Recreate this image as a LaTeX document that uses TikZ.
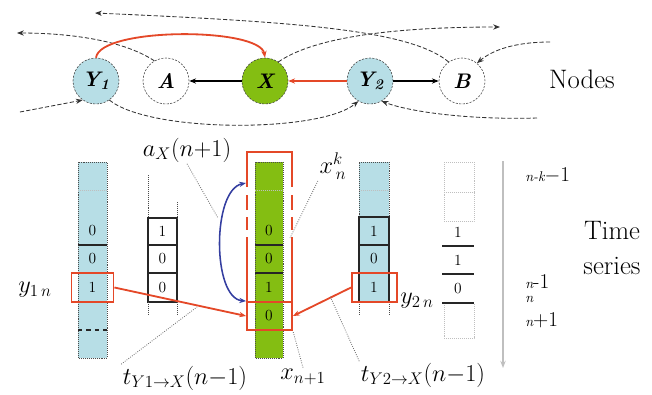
\documentclass[tikz,border=0pt]{standalone}
\usetikzlibrary{arrows.meta,positioning,calc}

\definecolor{nodeblue}{RGB}{183,222,230}
\definecolor{nodegreen}{RGB}{132,190,18}
\definecolor{arrred}{RGB}{228,72,40}
\definecolor{arcblue}{RGB}{52,62,160}

\begin{document}
\begin{tikzpicture}[
  x=0.025cm, y=-0.025cm,
  >={Stealth[length=1.7mm, width=1.3mm]},
  nd/.style={circle, draw=black!75, dash pattern=on 1.5pt off 1pt, minimum size=1.15cm,
             inner sep=0pt, font=\fontsize{15}{15}\selectfont\bfseries\itshape},
  cell/.style={minimum width=0.75cm, minimum height=0.7cm, inner sep=0pt,
               font=\fontsize{11}{11}\selectfont},
  rbox/.style={draw=arrred, line width=1.3pt, minimum width=1.05cm, minimum height=0.72cm, inner sep=0pt},
  rline/.style={draw=arrred, line width=1.5pt},
  coldot/.style={draw=black!70, densely dotted},
  faint/.style={draw=black!25, densely dotted},
  cline/.style={draw=black!85, line width=0.9pt},
  dline/.style={draw=black!80, line width=0.6pt, dash pattern=on 3pt off 1.5pt},
  lead/.style={draw=black!55, densely dotted, line width=0.6pt},
  lbl/.style={font=\fontsize{18}{20}\selectfont, inner sep=1pt},
  tlbl/.style={anchor=west, inner sep=0pt, font=\fontsize{15}{16}\selectfont},
  big/.style={font=\fontsize{19}{25}\selectfont, align=center}
]
\useasboundingbox (0,0) rectangle (652,395);

% ---------- nodes row ----------
\node[nd, fill=nodeblue] (Y1) at (96,81) {Y\textsubscript{1}};
\node[nd] (A) at (166,81) {A};
\node[nd, fill=nodegreen] (X) at (265,81) {X};
\node[nd, fill=nodeblue] (Y2) at (370,81) {Y\textsubscript{2}};
\node[nd] (B) at (462,81) {B};
\node[big] (nodes) at (582,79) {Nodes};

% free ends of the links to the rest of the network
\coordinate (aout) at (17,33);
\coordinate (bout) at (95,13);
\coordinate (xout) at (500,27);
\coordinate (y1in) at (20,112);
\coordinate (y2in) at (537,118);
\coordinate (bin) at (550,42);

\draw[dline, ->] (A.120) .. controls (120,38) and (60,33) .. (aout);
\draw[dline, ->] (B.125) .. controls (410,30) and (300,22) .. (bout);
\draw[dline, ->] (X.55) .. controls (310,40) and (380,27) .. (xout);
\draw[dline, ->] (y1in) -- (Y1.235);
\draw[dline, ->] (Y1.305) .. controls (150,133) and (320,133) .. (Y2.240);
\draw[dline, ->] (y2in) .. controls (470,120) and (410,112) .. (Y2.300);
\draw[dline, ->] (bin) .. controls (520,42) and (495,48) .. (B.50);

\draw[->, thick] (X) -- (A);
\draw[->, thick] (Y2) -- (B);
\draw[->, arrred, line width=1.3pt] (Y2) -- (X);
\draw[->, arrred, line width=1.3pt] (Y1.90) .. controls (100,27) and (260,27) .. (X.90);

% ---------- time series ----------
% Y1 column
\fill[nodeblue] (78,162) rectangle (107,358);
\draw[coldot] (78,162) rectangle (107,358);
\draw[faint] (78,190) -- (107,190);
\foreach \yy in {245,273,302} \draw[cline] (78,\yy) -- (107,\yy);
\draw[draw=black!85, line width=0.9pt, dashed] (78,330) -- (107,330);
\foreach \v/\yy [count=\i] in {0/231,0/259,1/287.5}
  \node[cell] (y1c\i) at (92.5,\yy) {\v};
\node[rbox] (y1box) at (92.5,287.5) {};

% A column
\draw[cline] (148,218) rectangle (177,302);
\foreach \yy in {245,273} \draw[cline] (148,\yy) -- (177,\yy);
\draw[coldot] (148,175) -- (148,218) (148,302) -- (148,315)
              (177,202) -- (177,218) (177,302) -- (177,315);
\foreach \v/\yy [count=\i] in {1/231,0/259,0/287.5}
  \node[cell] (ac\i) at (162.5,\yy) {\v};

% X column
\fill[nodegreen] (255,162) rectangle (283,358);
\draw[coldot] (255,162) rectangle (283,358);
\draw[faint] (255,190) -- (283,190);
\foreach \yy in {245,273,302} \draw[cline] (255,\yy) -- (283,\yy);
\foreach \v/\yy [count=\i] in {0/231,0/259,1/287.5,0/316}
  \node[cell] (xc\i) at (269,\yy) {\v};
\node[rbox, minimum width=1.125cm, minimum height=0.7cm] (xbox) at (269.5,316) {};
\draw[rline] (247,187) -- (247,152) -- (292,152) -- (292,187);
\foreach \a/\b in {195/210,217/230} {
  \draw[rline] (247,\a) -- (247,\b);
  \draw[rline] (292,\a) -- (292,\b);
}
\draw[rline] (247,237) -- (247,302) (292,237) -- (292,302);

% Y2 column
\fill[nodeblue] (359,162) rectangle (389,302);
\draw[coldot] (359,217) -- (359,162) -- (389,162) -- (389,217)
              (359,302) -- (359,315) (389,302) -- (389,315);
\draw[faint] (359,190) -- (389,190);
\draw[cline] (359,217) rectangle (389,302);
\foreach \yy in {245,273} \draw[cline] (359,\yy) -- (389,\yy);
\foreach \v/\yy [count=\i] in {1/231,0/259,1/287.5}
  \node[cell] (y2c\i) at (374,\yy) {\v};
\node[rbox, minimum width=1.125cm] (y2box) at (374.5,287.5) {};

% B column
\draw[faint] (444,162) rectangle (474,221);
\draw[faint] (444,192) -- (474,192);
\draw[faint] (444,303) rectangle (474,338);
\foreach \yy in {246,274,303} \draw[cline] (442,\yy) -- (474,\yy);
\foreach \v/\yy [count=\i] in {1/232,1/260,0/289}
  \node[cell] (bc\i) at (458,\yy) {\v};

% transfer and storage
\draw[->, arrred, line width=1.3pt] (y1box.east) -- (xbox.west);
\draw[->, arrred, line width=1.3pt] (y2box.west) -- (xbox.east);
\coordinate (xpast) at (246,183);
\draw[arcblue, line width=1.1pt, <->] (xpast) .. controls (212,190) and (212,298) .. (xbox.north west);

% labels and leaders
\node[lbl] (ax) at (187,150) {$a_{X}(n{+}1)$};
\coordinate (axp) at (218,218);
\draw[lead] (ax.south) -- (axp);

\node[lbl] (xk) at (333,166) {$x^{k}_{\,n}$};
\coordinate (xkp) at (290,238);
\draw[lead] (xk.south west) -- (xkp);

\node[lbl] (ty1) at (185,378) {$t_{Y1\to X}(n{-}1)$};
\coordinate (ty1p) at (197,307);
\draw[lead] (ty1.north west) -- (ty1p);

\node[lbl] (xn1) at (303,377) {$x_{n+1}$};
\draw[lead] (xn1.north) -- (xbox.south east);

\node[lbl] (ty2) at (423,375) {$t_{Y2\to X}(n{-}1)$};
\coordinate (ty2p) at (330,296);
\draw[lead] (ty2.north west) -- (ty2p);

\node[lbl] (y1n) at (35,290) {$y_{1\,n}$};
\node[lbl] (y2n) at (417,301) {$y_{2\,n}$};

% time axis
\coordinate (t0) at (503,161);
\coordinate (t1) at (503,368);
\draw[gray!50, line width=1.2pt, -{Stealth[length=1.8mm]}] (t0) -- (t1);
\node[tlbl] (tk) at (525,175) {{\fontsize{10}{10}\selectfont\itshape n-k}$-$1};
\node[tlbl] (tm) at (525,282) {{\fontsize{10}{10}\selectfont\itshape n}-1};
\node[tlbl] (tn) at (525,299) {{\fontsize{10}{10}\selectfont\itshape n}};
\node[tlbl] (tp) at (525,320) {{\fontsize{10}{10}\selectfont\itshape n}+1};
\node[big] (ts) at (612,248) {Time\\series};

\end{tikzpicture}
\end{document}
